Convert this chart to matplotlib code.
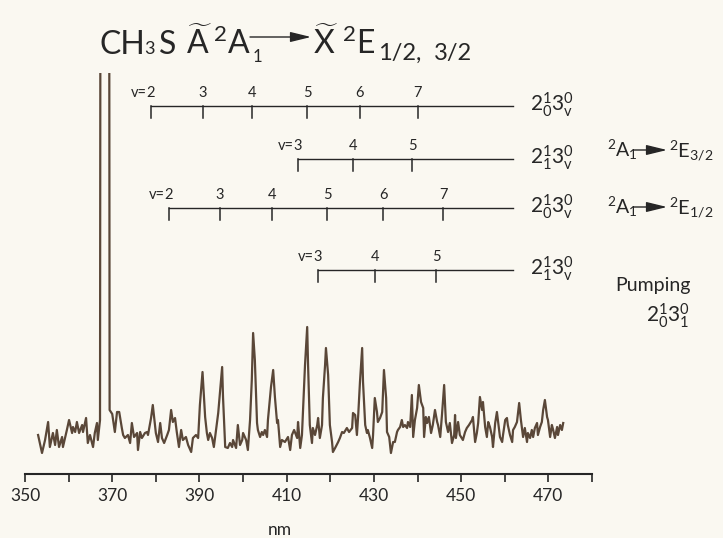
import matplotlib
matplotlib.use('Agg')
import matplotlib.pyplot as plt

plt.rcParams['font.family'] = ['Lato', 'DejaVu Sans']
plt.rcParams['font.weight'] = 'normal'
plt.rcParams['mathtext.fontset'] = 'custom'
plt.rcParams['mathtext.rm'] = 'Lato'
plt.rcParams['mathtext.it'] = 'Lato'
plt.rcParams['mathtext.bf'] = 'Lato:bold'

# emission spectrum (nm, arbitrary intensity)
wl = [353.0, 353.9, 354.6, 355.3, 355.7, 356.4, 356.9, 357.3, 357.8, 358.5,
      358.7, 359.6, 360.1, 360.8, 361.0, 361.5, 361.9, 362.4, 363.1, 363.3,
      364.0, 364.4, 364.9, 365.6, 366.0, 366.5, 366.7, 367.2, 367.6, 369.0,
      369.4, 370.0, 370.6, 371.1, 371.6, 372.2, 372.5, 372.9, 373.6, 374.1,
      374.5, 375.0, 375.7, 375.9, 376.4, 376.8, 377.5, 378.0, 378.2, 378.9,
      379.3, 380.0, 380.5, 381.0, 381.4, 381.9, 382.6, 383.0, 383.5, 383.9,
      384.4, 384.8, 385.3, 385.8, 386.2, 386.9, 387.4, 388.1, 388.5, 389.2,
      389.7, 390.1, 390.7, 391.3, 391.7, 392.0, 392.4, 392.9, 393.3, 393.8,
      394.3, 394.7, 395.2, 395.4, 395.9, 396.5, 397.0, 397.5, 397.7, 398.4,
      398.8, 399.3, 399.8, 400.0, 400.7, 401.1, 401.6, 402.0, 402.3, 402.7,
      403.2, 403.4, 403.9, 404.3, 404.6, 405.0, 405.5, 405.7, 406.4, 406.9,
      407.3, 407.8, 408.0, 408.5, 408.9, 409.6, 410.3, 410.8, 411.2, 411.7,
      412.4, 412.6, 413.1, 413.5, 413.7, 414.2, 414.7, 414.9, 415.3, 415.8,
      416.0, 416.5, 417.0, 417.2, 417.6, 418.1, 418.3, 418.8, 419.0, 419.5,
      419.9, 420.4, 420.6, 421.1, 421.8, 422.2, 422.7, 423.1, 423.8, 424.3,
      425.0, 425.2, 425.7, 426.1, 426.4, 426.8, 427.3, 427.5, 428.0, 428.4,
      428.6, 429.1, 429.6, 429.8, 430.2, 430.7, 430.9, 431.4, 431.9, 432.3,
      432.8, 433.0, 433.5, 433.9, 434.4, 434.8, 435.3, 435.5, 436.0, 436.4,
      436.7, 437.1, 437.6, 437.8, 438.3, 438.7, 439.0, 439.4, 439.9, 440.3,
      440.8, 441.3, 441.5, 441.9, 442.2, 442.6, 443.1, 443.5, 444.0, 444.5,
      444.7, 445.2, 445.6, 446.1, 446.5, 447.0, 447.4, 447.9, 448.4, 448.6,
      448.8, 449.3, 449.7, 450.4, 450.9, 451.3, 451.8, 452.5, 452.7, 453.2,
      453.6, 453.9, 454.3, 454.8, 455.0, 455.5, 455.9, 456.2, 456.6, 457.1,
      457.3, 457.8, 458.2, 458.5, 458.9, 459.4, 459.6, 460.1, 460.5, 460.7,
      461.2, 461.7, 461.9, 462.3, 462.8, 463.3, 463.7, 464.2, 464.6, 465.1,
      465.3, 465.8, 466.2, 466.5, 466.9, 467.4, 467.6, 468.1, 468.5, 468.8,
      469.2, 469.7, 469.9, 470.4, 470.8, 471.1, 471.5, 472.0, 472.2, 472.7,
      473.1, 473.4]
inten = [39, 21, 34, 52, 27, 41, 29, 44, 27, 37,
         27, 44, 54, 41, 47, 42, 52, 41, 49, 42,
         56, 31, 39, 27, 41, 51, 34, 54, 2000, 2000,
         64, 60, 42, 62, 62, 46, 39, 36, 39, 31,
         51, 37, 41, 24, 42, 36, 41, 42, 39, 56,
         69, 41, 32, 51, 36, 31, 39, 44, 64, 52,
         56, 42, 27, 44, 34, 37, 29, 22, 36, 39,
         36, 69, 102, 57, 41, 34, 41, 36, 27, 44,
         61, 81, 107, 77, 27, 26, 31, 27, 34, 26,
         49, 29, 34, 41, 34, 24, 54, 94, 141, 114,
         51, 44, 37, 42, 39, 44, 37, 54, 87, 104,
         77, 51, 54, 27, 34, 32, 37, 24, 39, 44,
         36, 52, 26, 39, 59, 109, 147, 109, 49, 31,
         46, 39, 49, 56, 36, 49, 76, 109, 126, 99,
         49, 32, 22, 26, 32, 36, 42, 41, 46, 42,
         46, 61, 59, 39, 59, 92, 126, 92, 49, 41,
         44, 36, 26, 39, 76, 62, 52, 56, 62, 104,
         76, 42, 37, 21, 32, 32, 42, 44, 47, 54,
         47, 49, 46, 52, 47, 79, 37, 54, 66, 89,
         72, 66, 37, 57, 51, 57, 41, 49, 64, 52,
         49, 37, 59, 89, 52, 42, 51, 31, 39, 59,
         36, 52, 39, 34, 42, 46, 49, 54, 57, 32,
         41, 51, 77, 64, 72, 47, 37, 52, 47, 37,
         27, 51, 62, 51, 37, 32, 39, 54, 56, 49,
         39, 32, 44, 47, 52, 71, 54, 37, 46, 32,
         41, 36, 44, 37, 46, 51, 39, 47, 52, 64,
         74, 57, 54, 37, 49, 44, 36, 47, 39, 49,
         44, 51]

# vibrational progressions: tick positions (nm) and quantum numbers
p1_nm = [378.9, 390.8, 402.1, 414.7, 426.8, 440.1]
p1_v = ['2', '3', '4', '5', '6', '7']
p2_nm = [412.6, 425.2, 438.8]
p2_v = ['3', '4', '5']
p3_nm = [383.0, 394.7, 406.7, 419.3, 432.1, 445.9]
p3_v = ['2', '3', '4', '5', '6', '7']
p4_nm = [417.2, 430.3, 444.3]
p4_v = ['3', '4', '5']
prog_labels = [r'$2^{1}_{0}3^{0}_{\mathrm{v}}$', r'$2^{1}_{1}3^{0}_{\mathrm{v}}$',
               r'$2^{1}_{0}3^{0}_{\mathrm{v}}$', r'$2^{1}_{1}3^{0}_{\mathrm{v}}$']
prog_height = [368, 315, 266, 204]
prog_end = 461.9

ink = '#262626'
trace = '#5a4738'
W, H = 723, 538

def fx(x):
    return x / W

def fy(y):
    return 1 - y / H

fig = plt.figure(figsize=(7.23, 5.38), dpi=100, facecolor='#faf8f1')
ax = fig.add_axes([fx(25), fy(474), 567 / W, 401 / H])
ax.set_facecolor('none')

ax.plot(wl, inten, color=trace, lw=1.6)
ax.set_xlim(350, 480)
ax.set_ylim(0, 401)
for s in ['top', 'right', 'left']:
    ax.spines[s].set_visible(False)
ax.spines['bottom'].set_linewidth(1.5)
ax.spines['bottom'].set_color(ink)
ax.set_yticks([])
ax.set_xticks(range(350, 471, 20))
ax.set_xticks(range(360, 481, 20), minor=True)
ax.tick_params(axis='x', which='both', direction='out', length=6, width=1.2,
               colors=ink, labelsize=12.5, pad=4)
fig.text(fx(280), fy(535), 'nm', ha='center', va='baseline', fontsize=12.5, color=ink)

# progression ladders
for pos, vs, y, lab in zip([p1_nm, p2_nm, p3_nm, p4_nm], [p1_v, p2_v, p3_v, p4_v],
                           prog_height, prog_labels):
    ax.plot([pos[0], prog_end], [y, y], color=ink, lw=1.0)
    for p, v in zip(pos, vs):
        ax.plot([p, p], [y, y - 12], color=ink, lw=1.1)
        ax.annotate(v, (p, y), xytext=(0, 6.5), textcoords='offset points',
                    ha='center', va='baseline', fontsize=10.5, color=ink)
    ax.annotate('v=', (pos[0], y), xytext=(-3, 6.5), textcoords='offset points',
                ha='right', va='baseline', fontsize=10.5, color=ink)
    ax.annotate(lab, (465.8, y), xytext=(0, 1), textcoords='offset points',
                ha='left', va='center', fontsize=15, color=ink, annotation_clip=False)

# title
tsize = 23
fig.text(fx(99), fy(54), 'CH', fontsize=tsize, color=ink, va='baseline')
fig.text(fx(144), fy(54), '3', fontsize=13, color=ink, va='baseline')
fig.text(fx(159), fy(54), 'S', fontsize=tsize, color=ink, va='baseline')
fig.text(fx(186), fy(54), r'$\widetilde{\mathrm{A}}$', fontsize=tsize, color=ink, va='baseline')
fig.text(fx(213), fy(54), r'$^{2}\mathrm{A}$', fontsize=tsize, color=ink, va='baseline')
fig.text(fx(253), fy(62), '1', fontsize=12, color=ink, va='baseline')
fig.text(fx(313), fy(54), r'$\widetilde{\mathrm{X}}$', fontsize=tsize, color=ink, va='baseline')
fig.text(fx(342), fy(54), r'$^{2}\mathrm{E}$', fontsize=tsize, color=ink, va='baseline')
fig.text(fx(378), fy(60), '1/2,', fontsize=17, color=ink, va='baseline')
fig.text(fx(434), fy(60), '3/2', fontsize=17, color=ink, va='baseline')

arrow = dict(arrowstyle='-|>,head_length=0.9,head_width=0.22', color=ink, lw=1.0,
             shrinkA=0, shrinkB=0, mutation_scale=14)
fig.add_artist(plt.Annotation('', xy=(fx(311), fy(37)), xytext=(fx(250), fy(37)),
                              xycoords='figure fraction', arrowprops=arrow))

# transition labels on the right
for y0, sub in [(157, '3/2'), (214, '1/2')]:
    fig.text(fx(607), fy(y0), r'$^{2}\mathrm{A}_{1}$', fontsize=14, color=ink, va='baseline')
    fig.add_artist(plt.Annotation('', xy=(fx(667), fy(y0 - 7)), xytext=(fx(634), fy(y0 - 7)),
                                  xycoords='figure fraction', arrowprops=arrow))
    fig.text(fx(669), fy(y0), r'$^{2}\mathrm{E}_{%s}$' % sub, fontsize=14.5, color=ink, va='baseline')

fig.text(fx(653), fy(285), 'Pumping', fontsize=14, color=ink, ha='center', va='center')
fig.text(fx(668), fy(316), r'$2^{1}_{0}3^{0}_{1}$', fontsize=15, color=ink, ha='center', va='center')

fig.savefig('out.png', dpi=100, facecolor=fig.get_facecolor())
